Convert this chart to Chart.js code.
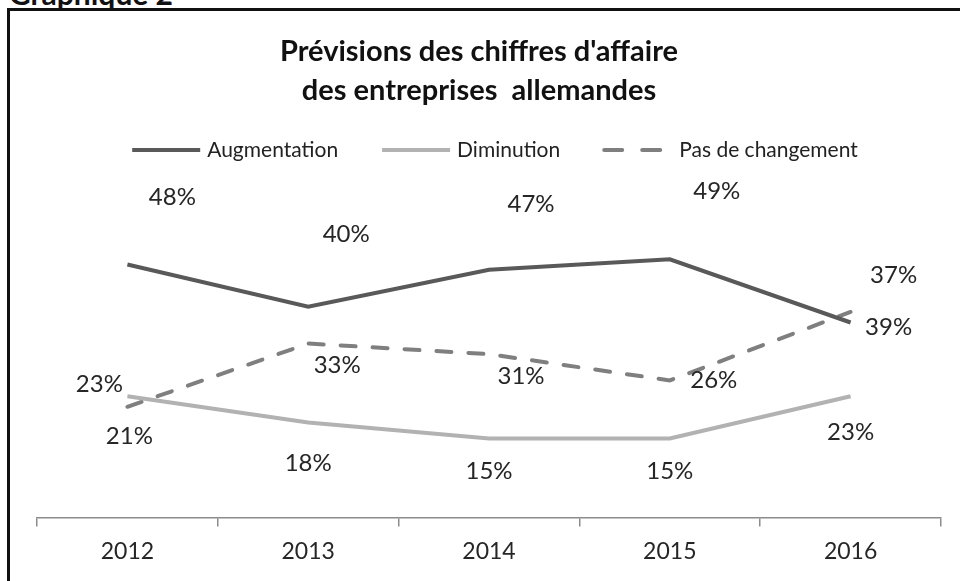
<!DOCTYPE html>
<html>
<head>
<meta charset="utf-8">
<script src="https://cdn.jsdelivr.net/npm/chart.js@4.4.0/dist/chart.umd.min.js"></script>
<style>
  body { margin: 0; background: #fff; }
  #page { position: relative; width: 960px; height: 581px; overflow: hidden; background: #fff; }
  #caption { position: absolute; left: 9px; top: -25px; font: bold 30px Lato, sans-serif; color: #111; }
  #frame { position: absolute; left: 7px; top: 8px; width: 990px; height: 620px; border: 3px solid #111; }
  #chart { position: absolute; left: 0; top: 0; }
</style>
</head>
<body>
<div id="page">
  <div id="caption">Graphique 2</div>
  <div id="frame"></div>
  <canvas id="chart" width="960" height="581"></canvas>
</div>
<script>
// ---------------- data ----------------
var years = ['2012', '2013', '2014', '2015', '2016'];
var augmentation = [48, 40, 47, 49, 37];
var diminution = [23, 18, 15, 15, 23];
var pasChangement = [21, 33, 31, 26, 39];
var titleLines = ["Prévisions des chiffres d'affaire", "des entreprises  allemandes"];

// label offsets from each point (px), one list per series
var offsetsAug = [[45, -67], [38, -72], [42, -66], [47, -68], [43, -47]];
var offsetsDim = [[-28, -12], [0, 41], [0, 33], [0, 33], [0, 36]];
var offsetsPas = [[2, 29], [29, 22], [32, 22], [44, 0], [38, 15]];

var FONT = 'Lato, sans-serif';

// title + legend drawn in the top margin
var headerPlugin = {
  id: 'header',
  afterDraw: function (chart) {
    var ctx = chart.ctx;
    ctx.save();
    ctx.fillStyle = '#111';
    ctx.textAlign = 'center';
    ctx.textBaseline = 'middle';
    ctx.font = 'bold 29px ' + FONT;
    ctx.fillText(titleLines[0], 479, 52);
    ctx.fillText(titleLines[1], 479, 91);

    // legend
    ctx.font = '21px ' + FONT;
    var lineLen = 70, gapText = 7, gapItem = 42;
    var items = chart.data.datasets;
    var total = 0;
    items.forEach(function (d, i) {
      total += lineLen + gapText + ctx.measureText(d.label).width;
      if (i < items.length - 1) total += gapItem;
    });
    var x = 494 - total / 2, y = 150;
    items.forEach(function (d) {
      ctx.beginPath();
      ctx.strokeStyle = d.borderColor;
      ctx.lineWidth = d.borderWidth;
      ctx.lineCap = d.borderDash ? 'round' : 'butt';
      ctx.setLineDash(d.borderDash ? [18, 20] : []);
      ctx.moveTo(x + 2, y);
      ctx.lineTo(x + lineLen, y);
      ctx.stroke();
      ctx.setLineDash([]);
      ctx.fillStyle = '#222';
      ctx.textAlign = 'left';
      ctx.fillText(d.label, x + lineLen + gapText, y);
      x += lineLen + gapText + ctx.measureText(d.label).width + gapItem;
    });
    ctx.restore();
  }
};

// value labels
var valuePlugin = {
  id: 'values',
  afterDatasetsDraw: function (chart) {
    var ctx = chart.ctx;
    ctx.save();
    ctx.font = '24px ' + FONT;
    ctx.fillStyle = '#262626';
    ctx.textAlign = 'center';
    ctx.textBaseline = 'middle';
    chart.data.datasets.forEach(function (d, di) {
      var meta = chart.getDatasetMeta(di);
      meta.data.forEach(function (pt, i) {
        var off = d.offsets[i];
        ctx.fillText(d.data[i] + '%', pt.x + off[0], pt.y + off[1]);
      });
    });
    ctx.restore();
  }
};

var chart = new Chart(document.getElementById('chart'), {
  type: 'line',
  data: {
    labels: years,
    datasets: [{
      label: 'Augmentation',
      data: augmentation,
      offsets: offsetsAug,
      borderColor: '#595959',
      borderWidth: 4,
      pointRadius: 0
    }, {
      label: 'Diminution',
      data: diminution,
      offsets: offsetsDim,
      borderColor: '#b2b2b2',
      borderWidth: 4,
      pointRadius: 0
    }, {
      label: 'Pas de changement',
      data: pasChangement,
      offsets: offsetsPas,
      borderColor: '#7f7f7f',
      borderWidth: 4,
      borderDash: [15, 17],
      borderCapStyle: 'round',
      pointRadius: 0
    }]
  },
  options: {
    responsive: false,
    animation: false,
    layout: { padding: { left: 37, right: 19, top: 175, bottom: 5 } },
    plugins: {
      legend: { display: false },
      title: { display: false },
      tooltip: { enabled: false }
    },
    scales: {
      x: {
        offset: true,
        grid: { offset: true, drawOnChartArea: false, tickLength: 9, color: '#8c8c8c', lineWidth: 1.5 },
        border: { color: '#8c8c8c', width: 1.5 },
        ticks: { font: { family: FONT, size: 23 }, color: '#262626', padding: 11 }
      },
      y: { display: false, min: 0, max: 65 }
    }
  },
  plugins: [headerPlugin, valuePlugin]
});
</script>
</body>
</html>
